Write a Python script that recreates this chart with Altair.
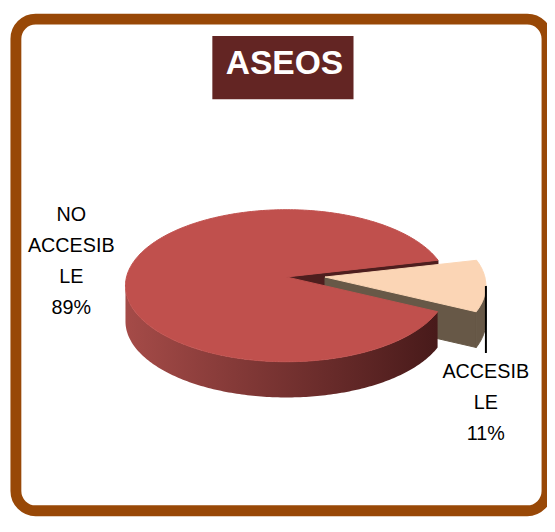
import math
import textwrap
import altair as alt
import pandas as pd

# ---------------- data ----------------
categories = ["NO ACCESIBLE", "ACCESIBLE"]
values = [89, 11]
title_text = "ASEOS"

# ---------------- layout / style ----------------
VIEW_W, VIEW_H = 538, 498
CX, CY = 274, 270          # ellipse centre inside the view (px)
RX, RY = 163, 77           # ellipse radii (px)
START_DEG = 19.6           # first slice starts here, counter-clockwise
EXPLODE = [0.0, 0.24]      # radial offset per slice (radius units)
DEPTH = 0.47               # thickness of the pie (y units)
APEX_LIFT = 0.115          # perspective: apex drawn a little above centre
X_DOMAIN = [-CX / RX, (VIEW_W - CX) / RX]
Y_DOMAIN = [-(VIEW_H - CY) / RY, CY / RY]
LABEL_POS = [(-1.337, 0.935), (1.239, -1.13)]   # first-line anchor
LEADER_GAP = 0.245

TOP_COL = ["#C0504D", "#FBD5B5"]
WALL_COL = ["#4E1E1E", "#675847"]
BAND_LEFT, BAND_RIGHT = "#A54B48", "#481A1A"
BORDER = "#984807"
TITLE_BG = "#632523"


def arc(ex, ey, a0, a1, step=1.0):
    n = max(2, int(math.ceil(abs(a1 - a0) / step)) + 1)
    out = []
    for i in range(n):
        a = math.radians(a0 + (a1 - a0) * i / (n - 1))
        out.append((ex + math.cos(a), ey + math.sin(a)))
    return out


rows = {"main_radial": [], "small_walls": [], "main_band": [], "main_top": [], "small_top": []}


def add(layer, pid, pts, col):
    pts = list(pts) + [pts[0]]
    for k, (x, y) in enumerate(pts):
        rows[layer].append({"pid": pid, "k": k, "x": x, "y": y, "col": col})


total = sum(values)
a0 = START_DEG
slices = []
for i, v in enumerate(values):
    span = 360.0 * v / total
    a1 = a0 + span
    mid = math.radians((a0 + a1) / 2)
    ex, ey = EXPLODE[i] * math.cos(mid), EXPLODE[i] * math.sin(mid)
    slices.append((a0, a1, ex, ey, mid))
    a0 = a1

for i, (s0, s1, ex, ey, mid) in enumerate(slices):
    main = i == 0
    apex = (ex, ey + APEX_LIFT)
    # top face
    add("main_top" if main else "small_top", f"top{i}",
        [apex] + arc(ex, ey, s0, s1), TOP_COL[i])
    # radial walls facing the viewer
    for a, vis in ((s0, math.cos(math.radians(s0)) > 0), (s1, math.cos(math.radians(s1)) < 0)):
        if vis:
            px, py = ex + math.cos(math.radians(a)), ey + math.sin(math.radians(a))
            add("main_radial" if main else "small_walls", f"rad{i}_{a:.1f}",
                [apex, (px, py), (px, py - DEPTH), (apex[0], apex[1] - DEPTH)], WALL_COL[i])
    # front outer wall
    for lo, hi in ((180, 360), (540, 720)):
        b0, b1 = max(s0, lo), min(s1, hi)
        if b1 <= b0:
            continue
        top = arc(ex, ey, b0, b1)
        bot = [(x, y - DEPTH) for x, y in reversed(top)]
        add("main_band" if main else "small_walls", f"band{i}", top + bot, WALL_COL[i])

xs = alt.X("x:Q", scale=alt.Scale(domain=X_DOMAIN, nice=False, zero=False), axis=None)
ys = alt.Y("y:Q", scale=alt.Scale(domain=Y_DOMAIN, nice=False, zero=False), axis=None)


def poly_layer(name):
    return alt.Chart(pd.DataFrame(rows[name])).mark_line(
        filled=True, strokeWidth=1, interpolate="linear"
    ).encode(
        x=xs, y=ys,
        detail="pid:N",
        order="k:Q",
        fill=alt.Fill("col:N", scale=None),
        stroke=alt.Stroke("col:N", scale=None),
    )


band_gradient = alt.Gradient(
    gradient="linear", x1=0, y1=0, x2=1, y2=0,
    stops=[alt.GradientStop(color=BAND_LEFT, offset=0),
           alt.GradientStop(color=BAND_RIGHT, offset=1)],
)
band_layer = alt.Chart(pd.DataFrame(rows["main_band"])).mark_line(
    filled=True, fill=band_gradient, strokeWidth=0, interpolate="linear"
).encode(x=xs, y=ys, detail="pid:N", order="k:Q")

# labels
lab_rows = []
for i, (c, v) in enumerate(zip(categories, values)):
    pct = f"{round(100 * v / total)}%"
    lines = []
    for word in c.split():
        lines += textwrap.wrap(word, 7)
    txt = "\n".join(lines + [pct])
    lab_rows.append({"label": txt, "x": LABEL_POS[i][0], "y": LABEL_POS[i][1]})
labels = alt.Chart(pd.DataFrame(lab_rows)).mark_text(
    font="Liberation Sans", fontSize=20, lineHeight=31.5, lineBreak="\n",
    color="black", align="center", baseline="middle"
).encode(x=xs, y=ys, text="label:N")

# leader line for the small slice
s0, s1, ex, ey, mid = slices[1]
lead = pd.DataFrame([{
    "x": ex + math.cos(mid), "y": ey + math.sin(mid),
    "y2": LABEL_POS[1][1] + LEADER_GAP,
}])
leader = alt.Chart(lead).mark_rule(color="black", strokeWidth=2).encode(
    x=xs, y=ys, y2="y2:Q")

# title box
tdf = pd.DataFrame([{"t": title_text}])
title_box = alt.Chart(tdf).mark_rect(color=TITLE_BG).encode(
    x=alt.value(199), x2=alt.value(342), y=alt.value(17), y2=alt.value(81))
title_txt = alt.Chart(tdf).mark_text(
    font="Liberation Sans", fontWeight="bold", fontSize=34, color="white",
    align="center", baseline="middle"
).encode(x=alt.value(272), y=alt.value(46), text="t:N")

chart = alt.layer(
    poly_layer("main_radial"),
    poly_layer("small_walls"),
    band_layer,
    poly_layer("main_top"),
    poly_layer("small_top"),
    leader, labels, title_box, title_txt,
).properties(
    width=VIEW_W, height=VIEW_H,
    padding={"left": 8, "top": 8, "right": 0, "bottom": 4},
    autosize=alt.AutoSizeParams(type="none"),
    background="white",
).configure_view(
    stroke=BORDER, strokeWidth=11, cornerRadius=20, fill="white"
)

chart.save("out.html", embed_options={"renderer": "svg", "actions": False})
